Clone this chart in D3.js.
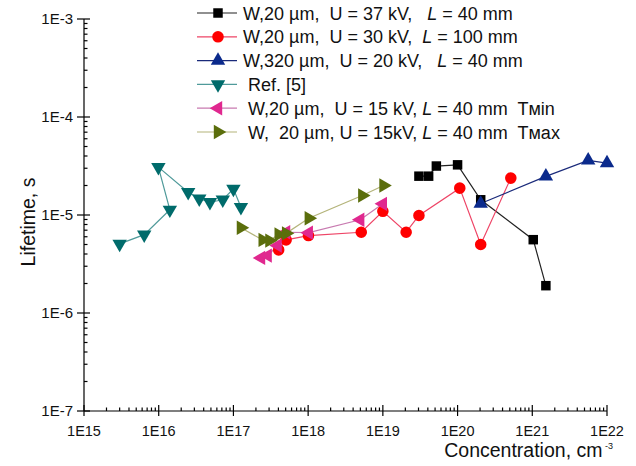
<!DOCTYPE html>
<html><head><meta charset="utf-8">
<script src="https://cdn.jsdelivr.net/npm/d3@7"></script>
<style>
body{margin:0;background:#fff;}
text{font-family:"Liberation Sans",Arial,sans-serif;white-space:pre;}
</style></head>
<body><svg id="c" width="636" height="466"></svg>
<script>
// ---- data ----
const xTicks = [1e15,1e16,1e17,1e18,1e19,1e20,1e21,1e22];
const xTickLabels = ["1E15","1E16","1E17","1E18","1E19","1E20","1E21","1E22"];
const yTicks = [1e-7,1e-6,1e-5,1e-4,1e-3];
const yTickLabels = ["1E-7","1E-6","1E-5","1E-4","1E-3"];

const s37x = [3.04e19,4.1e19,5.2e19,1.0e20,2.04e20,1.03e21,1.52e21];
const s37y = [2.49e-5,2.49e-5,3.16e-5,3.25e-5,1.43e-5,5.6e-6,1.9e-6];

const s30x = [4.03e17,5.07e17,1.01e18,5.14e18,1.0e19,2.05e19,3.04e19,1.07e20,2.04e20,5.16e20];
const s30y = [4.4e-6,5.57e-6,6.17e-6,6.67e-6,1.09e-5,6.67e-6,9.89e-6,1.88e-5,5.0e-6,2.38e-5];

const s320x = [2.04e20,1.52e21,5.6e21,1.0e22];
const s320y = [1.31e-5,2.48e-5,3.61e-5,3.39e-5];

const refx = [3.0e15,6.4e15,1.41e16,9.9e15,2.48e16,3.49e16,4.85e16,7.2e16,1.0e17,1.26e17];
const refy = [5.07e-6,6.3e-6,1.13e-5,3.08e-5,1.71e-5,1.47e-5,1.35e-5,1.43e-5,1.85e-5,1.2e-5];

const tminx = [2.34e17,2.87e17,3.91e17,5.07e17,1.02e18,4.98e18,1.0e19];
const tminy = [3.65e-6,3.85e-6,4.88e-6,6.67e-6,6.6e-6,8.93e-6,1.30e-5];

const tmaxx = [1.26e17,2.46e17,3.03e17,4.03e17,5.07e17,1.02e18,5.3e18,1.02e19];
const tmaxy = [7.4e-6,5.57e-6,5.48e-6,6.32e-6,6.5e-6,9.27e-6,1.58e-5,2.0e-5];

const series = [
  {x:s37x, y:s37y, sym:"square", rot:0, fill:"#000000", line:"#222222",
   label:[["W,20 µm,  U = 37 kV,   ",0],["L",1],[" = 40 mm",0]]},
  {x:s30x, y:s30y, sym:"circle", rot:0, fill:"#ff0000", line:"#ee4466",
   label:[["W,20 µm,  U = 30 kV,  ",0],["L",1],[" = 100 mm",0]]},
  {x:s320x, y:s320y, sym:"triangle", rot:0, fill:"#0b2a8c", line:"#1a2a7a",
   label:[["W,320 µm,  U = 20 kV,   ",0],["L",1],[" = 40 mm",0]]},
  {x:refx, y:refy, sym:"triangle", rot:180, fill:"#006b6b", line:"#4f9a9a",
   label:[[" Ref. [5]",0]]},
  {x:tminx, y:tminy, sym:"triangle", rot:-90, fill:"#e0288f", line:"#c87ab0",
   label:[[" W,20 µm,  U = 15 kV, ",0],["L",1],[" = 40 mm  Tмin",0]]},
  {x:tmaxx, y:tmaxy, sym:"triangle", rot:90, fill:"#5b6e0c", line:"#b4b47a",
   label:[[" W,  20 µm, U = 15kV, ",0],["L",1],[" = 40 mm  Tмax",0]]}
];

// ---- chart ----
const svg = d3.select("#c");
const x = d3.scaleLog().domain([1e15,1e22]).range([84,607]);
const y = d3.scaleLog().domain([1e-7,1e-3]).range([411,19]);

const minorX = [], minorY = [];
for (let e=15;e<22;e++) for (let m=2;m<10;m++) minorX.push(m*Math.pow(10,e));
for (let e=-7;e<-3;e++) for (let m=2;m<10;m++) minorY.push(m*Math.pow(10,e));

const ax = svg.append("g").attr("stroke","#000").attr("stroke-width",1.2);
ax.append("line").attr("x1",x(1e15)).attr("x2",x(1e22)).attr("y1",y(1e-7)).attr("y2",y(1e-7));
ax.append("line").attr("x1",x(1e15)).attr("x2",x(1e15)).attr("y1",y(1e-7)).attr("y2",y(1e-3));
ax.selectAll(".xm").data(minorX).join("line")
  .attr("x1",d=>x(d)).attr("x2",d=>x(d)).attr("y1",y(1e-7)).attr("y2",y(1e-7)-3.5);
ax.selectAll(".xM").data(xTicks).join("line")
  .attr("x1",d=>x(d)).attr("x2",d=>x(d)).attr("y1",y(1e-7)+5).attr("y2",y(1e-7)-6);
ax.selectAll(".ym").data(minorY).join("line")
  .attr("y1",d=>y(d)).attr("y2",d=>y(d)).attr("x1",x(1e15)).attr("x2",x(1e15)+3.5);
ax.selectAll(".yM").data(yTicks).join("line")
  .attr("y1",d=>y(d)).attr("y2",d=>y(d)).attr("x1",x(1e15)-7).attr("x2",x(1e15)+6);

svg.selectAll(".xl").data(xTicks).join("text")
  .attr("x",d=>x(d)).attr("y",436).attr("text-anchor","middle")
  .attr("font-size",14.5).attr("fill","#111").text((d,i)=>xTickLabels[i]);
svg.selectAll(".yl").data(yTicks).join("text")
  .attr("x",73).attr("y",d=>y(d)+5).attr("text-anchor","end")
  .attr("font-size",15).attr("fill","#111").text((d,i)=>yTickLabels[i]);

svg.append("text").attr("transform","translate(35,222) rotate(-90)")
  .attr("text-anchor","middle").attr("font-size",19.5).attr("fill","#111").text("Lifetime, s");
const xt = svg.append("text").attr("x",613).attr("y",457).attr("text-anchor","end")
  .attr("font-size",19.5).attr("fill","#111");
xt.append("tspan").text("Concentration, cm");
xt.append("tspan").attr("font-size",9).attr("dy",-8).text(" -3");

const symType = {square:d3.symbolSquare, circle:d3.symbolCircle, triangle:d3.symbolTriangle};
const symSize = {square:90, circle:105, triangle:90};
const lineGen = d3.line().x(d=>x(d[0])).y(d=>y(d[1]));

series.forEach(s=>{
  const pts = s.x.map((v,i)=>[v,s.y[i]]);
  svg.append("path").datum(pts).attr("d",lineGen).attr("fill","none")
    .attr("stroke",s.line).attr("stroke-width",1.2);
});
series.forEach(s=>{
  const pts = s.x.map((v,i)=>[v,s.y[i]]);
  svg.append("g").selectAll("path").data(pts).join("path")
    .attr("d",d3.symbol().type(symType[s.sym]).size(symSize[s.sym]))
    .attr("transform",d=>`translate(${x(d[0])},${y(d[1])}) rotate(${s.rot})`)
    .attr("fill",s.fill);
});

// legend
const lg = svg.append("g");
series.forEach((s,i)=>{
  const yy = 13 + i*23.8;
  lg.append("line").attr("x1",197).attr("x2",237).attr("y1",yy).attr("y2",yy)
    .attr("stroke",s.line).attr("stroke-width",1.2);
  lg.append("path").attr("d",d3.symbol().type(symType[s.sym]).size(symSize[s.sym])())
    .attr("transform",`translate(218,${yy}) rotate(${s.rot})`).attr("fill",s.fill);
  const t = lg.append("text").attr("x",243).attr("y",yy+6.5).attr("font-size",18).attr("fill","#111");
  s.label.forEach(p=>{
    const ts = t.append("tspan").text(p[0]);
    if (p[1]) ts.attr("font-style","italic");
  });
});
</script></body></html>
